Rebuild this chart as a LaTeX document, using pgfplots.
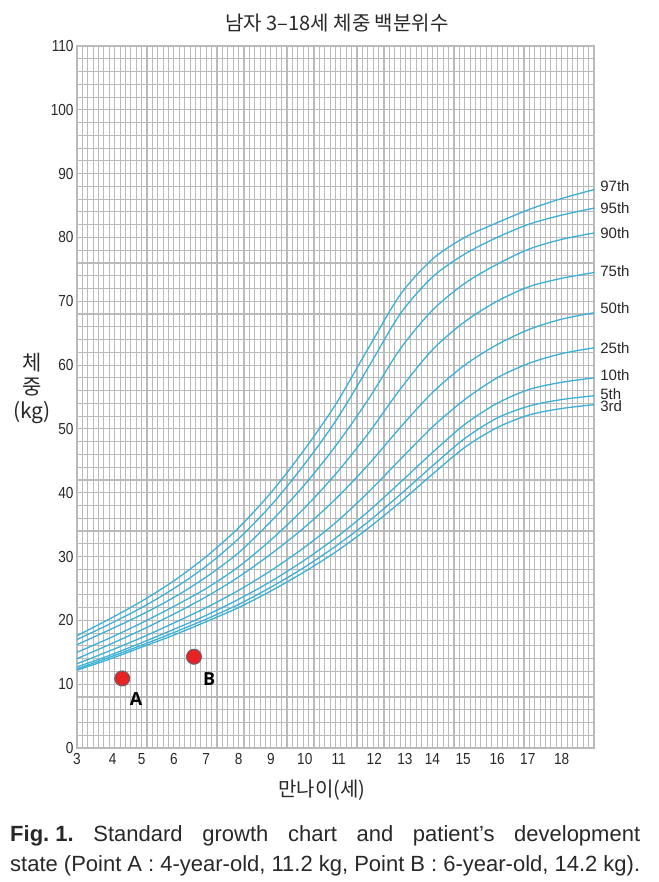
\documentclass[border=0pt]{standalone}
\usepackage{pgfplots}
\pgfplotsset{compat=1.18}
\usepackage{pgfplotstable}
\usepackage{fontspec}
\setmainfont{Liberation Sans}
\newfontfamily\kr{Noto Sans CJK KR}
\newfontfamily\tickf[FakeStretch=0.85]{Liberation Sans}
\newfontfamily\lbl{Open Sans}
\definecolor{curve}{RGB}{58,176,216}
\definecolor{gridc}{RGB}{186,186,186}
\definecolor{txt}{RGB}{40,40,40}
\definecolor{ptred}{RGB}{232,35,35}
\definecolor{ptedge}{RGB}{105,95,115}

\pgfplotstableread{
age p3   p5   p10  p25  p50  p75  p90  p95  p97
3   12.2 12.4 12.7 13.2 14.0 15.0 16.2 17.0 17.6
4   13.9 14.2 14.5 15.2 16.2 17.2 18.5 19.4 20.2
5   15.8 16.1 16.5 17.3 18.5 19.6 20.9 22.0 23.0
6   17.7 18.1 18.6 19.6 21.0 22.2 23.6 25.0 26.2
7   19.8 20.2 20.8 22.0 23.7 25.0 26.8 28.5 30.0
8   22.0 22.5 23.3 24.7 26.8 28.4 30.6 32.8 34.5
9   24.6 25.2 26.1 27.8 30.4 32.6 35.5 38.0 40.0
10  27.5 28.2 29.3 31.3 34.4 37.4 41.0 44.2 46.5
11  30.7 31.6 32.9 35.3 39.0 42.9 47.3 51.2 53.8
12  34.4 35.4 37.0 40.0 44.3 49.2 54.5 59.5 62.5
13  38.5 39.7 41.6 45.2 50.2 56.2 62.5 68.0 71.0
14  42.9 44.2 46.3 50.3 55.7 62.4 68.6 73.8 76.6
15  47.1 48.5 50.7 54.6 60.0 66.8 72.8 77.4 80.0
16  50.2 51.7 54.0 58.0 63.2 70.0 75.8 80.0 82.3
17  52.2 53.6 56.2 60.3 65.6 72.3 78.2 82.1 84.4
18  53.2 54.6 57.3 61.8 67.2 73.6 79.7 83.5 86.1
19  53.8 55.2 58.0 62.7 68.2 74.5 80.7 84.6 87.5
}\growth

\begin{document}
\begin{tikzpicture}[x=1pt,y=1pt]
\path[use as bounding box] (0,0) rectangle (658,-882);
\begin{axis}[
  at={(77pt,-748pt)}, anchor=south west,
  scale only axis, width=517pt, height=702pt,
  xmin=3, xmax=19, ymin=0, ymax=110,
  xtick={3,...,19}, xticklabels={}, minor x tick num=5,
  ytick={0,10,...,110}, minor y tick num=4,
  grid=both,
  grid style={gridc, line width=1.1pt},
  major grid style={gridc, line width=1.1pt},
  minor grid style={gridc, line width=1.1pt},
  major tick length=0pt, minor tick length=0pt,
  axis line style={gridc, line width=1.6pt},
  tick label style={font=\tickf\fontsize{16}{16}\selectfont, text=txt},
  /pgf/number format/assume math mode=true,
  extra x ticks={3,4.1,5,6,7,8,9,10.05,11.1,12.2,13.15,14,14.95,16,16.95,18},
  extra x tick labels={3,4,5,6,7,8,9,10,11,12,13,14,15,16,17,18},
  extra x tick style={grid=none, major tick length=0pt,
    xticklabel style={anchor=base, yshift=-16pt}},
  clip=false,
]
\addplot[curve, line width=1.3pt, smooth] table[x=age,y=p97]{\growth};
\addplot[curve, line width=1.3pt, smooth] table[x=age,y=p95]{\growth};
\addplot[curve, line width=1.3pt, smooth] table[x=age,y=p90]{\growth};
\addplot[curve, line width=1.3pt, smooth] table[x=age,y=p75]{\growth};
\addplot[curve, line width=1.3pt, smooth] table[x=age,y=p50]{\growth};
\addplot[curve, line width=1.3pt, smooth] table[x=age,y=p25]{\growth};
\addplot[curve, line width=1.3pt, smooth] table[x=age,y=p10]{\growth};
\addplot[curve, line width=1.3pt, smooth] table[x=age,y=p5]{\growth};
\addplot[curve, line width=1.3pt, smooth] table[x=age,y=p3]{\growth};
\addplot[only marks, mark=*, mark size=7.5pt,
  mark options={fill=ptred, draw=ptedge, line width=1pt}]
  coordinates {(4.4,10.9) (6.62,14.3)};
\node[font=\lbl\bfseries\fontsize{18}{18}\selectfont, text=black] at (axis cs:4.83,7.7) {A};
\node[font=\lbl\bfseries\fontsize{18}{18}\selectfont, text=black] at (axis cs:7.09,10.8) {B};
\begin{scope}[every node/.style={anchor=west, inner sep=0pt, text=txt, font=\fontsize{15}{15}\selectfont}]
\node at (axis cs:19.19,88.1) {97th};
\node at (axis cs:19.19,84.6) {95th};
\node at (axis cs:19.19,80.6) {90th};
\node at (axis cs:19.19,74.8) {75th};
\node at (axis cs:19.19,69.0) {50th};
\node at (axis cs:19.19,62.7) {25th};
\node at (axis cs:19.19,58.5) {10th};
\node at (axis cs:19.19,55.5) {5th};
\node at (axis cs:19.19,53.5) {3rd};
\end{scope}
\end{axis}
\node[font=\kr\fontsize{20}{20}\selectfont, text=txt] at (337,-23) {남자 3–18세 체중 백분위수};
\node[align=center, font=\kr\fontsize{21}{24}\selectfont, text=txt] at (32,-388) {체\\중\\(kg)};
\node[font=\kr\fontsize{20}{20}\selectfont, text=txt] at (322,-790) {만나이(세)};
\node[anchor=base west, inner sep=0pt, font=\fontsize{22}{22}\selectfont, text=txt] at (10,-841)
  {\frenchspacing\makebox[630pt][s]{\mbox{\textbf{Fig. 1.}} Standard growth chart and patient’s development}};
\node[anchor=base west, inner sep=0pt, font=\fontsize{22}{22}\selectfont, text=txt] at (10,-871)
  {\frenchspacing\makebox[630pt][s]{state (Point A : 4-year-old, 11.2 kg, Point B : 6-year-old, 14.2 kg).}};
\end{tikzpicture}
\end{document}
